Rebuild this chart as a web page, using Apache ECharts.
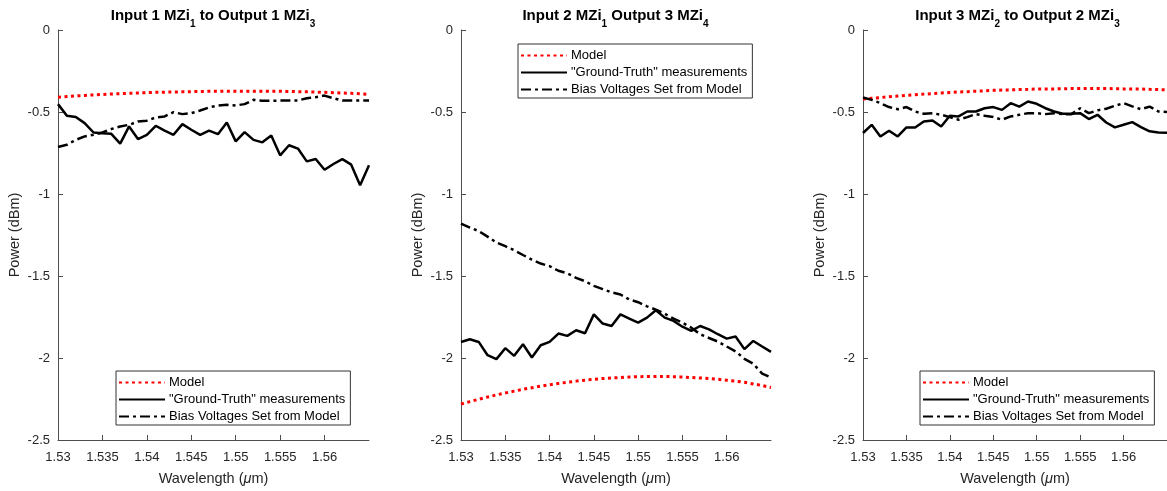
<!DOCTYPE html>
<html>
<head>
<meta charset="utf-8">
<script src="https://cdn.jsdelivr.net/npm/echarts@6/dist/echarts.min.js"></script>
<style>
  html, body { margin: 0; padding: 0; background: #ffffff; }
  #chart { width: 1167px; height: 491px; }
</style>
</head>
<body>
<div id="chart"></div>
<script>
// Wavelength samples (µm)
const wavelength = [
  1.530, 1.531, 1.532, 1.533, 1.534, 1.535, 1.536, 1.537, 1.538, 1.539,
  1.540, 1.541, 1.542, 1.543, 1.544, 1.545, 1.546, 1.547, 1.548, 1.549,
  1.550, 1.551, 1.552, 1.553, 1.554, 1.555, 1.556, 1.557, 1.558, 1.559,
  1.560, 1.561, 1.562, 1.563, 1.564, 1.565
];
const xTicks = [1.53, 1.535, 1.54, 1.545, 1.55, 1.555, 1.56];

const seriesNames = ['Model', '"Ground-Truth" measurements', 'Bias Voltages Set from Model'];

// Input 1 MZi1 -> Output 1 MZi3 (dBm)
const p1Model = [
  -0.410, -0.406, -0.402, -0.399, -0.396, -0.393, -0.390, -0.388, -0.386, -0.384,
  -0.382, -0.380, -0.379, -0.378, -0.377, -0.376, -0.375, -0.374, -0.374, -0.373,
  -0.373, -0.373, -0.373, -0.373, -0.374, -0.374, -0.375, -0.376, -0.377, -0.379,
  -0.380, -0.382, -0.384, -0.386, -0.389, -0.392
];
const p1Truth = [
  -0.452, -0.523, -0.531, -0.568, -0.625, -0.630, -0.633, -0.693, -0.588, -0.665,
  -0.639, -0.584, -0.614, -0.639, -0.574, -0.608, -0.639, -0.614, -0.635, -0.564,
  -0.679, -0.623, -0.670, -0.685, -0.643, -0.764, -0.703, -0.723, -0.801, -0.787,
  -0.852, -0.817, -0.787, -0.821, -0.947, -0.825
];
const p1Bias = [
  -0.713, -0.700, -0.670, -0.649, -0.639, -0.625, -0.604, -0.588, -0.578, -0.558,
  -0.553, -0.533, -0.527, -0.501, -0.513, -0.507, -0.491, -0.472, -0.460, -0.456,
  -0.460, -0.452, -0.426, -0.432, -0.432, -0.430, -0.430, -0.430, -0.416, -0.410,
  -0.400, -0.416, -0.430, -0.430, -0.430, -0.430
];

// Input 2 MZi1 -> Output 3 MZi4 (dBm)
const p2Model = [
  -2.281, -2.266, -2.252, -2.238, -2.225, -2.213, -2.202, -2.191, -2.181, -2.172,
  -2.163, -2.155, -2.148, -2.141, -2.135, -2.130, -2.125, -2.122, -2.119, -2.116,
  -2.114, -2.113, -2.113, -2.113, -2.114, -2.116, -2.119, -2.122, -2.125, -2.130,
  -2.135, -2.141, -2.148, -2.158, -2.168, -2.180
];
const p2Truth = [
  -1.902, -1.886, -1.902, -1.983, -2.007, -1.940, -1.987, -1.916, -1.997, -1.922,
  -1.902, -1.851, -1.865, -1.831, -1.849, -1.734, -1.790, -1.805, -1.734, -1.760,
  -1.784, -1.754, -1.709, -1.754, -1.774, -1.809, -1.835, -1.805, -1.825, -1.855,
  -1.882, -1.869, -1.946, -1.896, -1.930, -1.963
];
const p2Bias = [
  -1.180, -1.205, -1.226, -1.260, -1.296, -1.318, -1.343, -1.372, -1.400, -1.424,
  -1.440, -1.468, -1.484, -1.511, -1.532, -1.560, -1.580, -1.600, -1.613, -1.643,
  -1.660, -1.685, -1.705, -1.730, -1.760, -1.785, -1.815, -1.855, -1.878, -1.900,
  -1.930, -1.960, -2.005, -2.035, -2.095, -2.119
];

// Input 3 MZi2 -> Output 2 MZi3 (dBm)
const p3Model = [
  -0.421, -0.416, -0.412, -0.407, -0.403, -0.399, -0.395, -0.391, -0.388, -0.384,
  -0.381, -0.378, -0.376, -0.373, -0.371, -0.368, -0.366, -0.365, -0.363, -0.362,
  -0.360, -0.359, -0.359, -0.358, -0.357, -0.357, -0.357, -0.357, -0.357, -0.358,
  -0.359, -0.359, -0.360, -0.362, -0.363, -0.365
];
const p3Truth = [
  -0.628, -0.578, -0.649, -0.614, -0.649, -0.594, -0.594, -0.558, -0.552, -0.588,
  -0.523, -0.527, -0.497, -0.497, -0.477, -0.470, -0.487, -0.446, -0.467, -0.436,
  -0.450, -0.477, -0.497, -0.511, -0.511, -0.507, -0.543, -0.517, -0.564, -0.594,
  -0.578, -0.562, -0.592, -0.618, -0.625, -0.627
];
const p3Bias = [
  -0.412, -0.426, -0.446, -0.470, -0.483, -0.470, -0.497, -0.511, -0.507, -0.517,
  -0.531, -0.547, -0.531, -0.513, -0.523, -0.531, -0.547, -0.527, -0.517, -0.507,
  -0.507, -0.513, -0.507, -0.513, -0.513, -0.477, -0.507, -0.490, -0.480, -0.462,
  -0.446, -0.466, -0.483, -0.467, -0.497, -0.500
];

const panelTitles = [
  ['Input 1 MZi', '1', ' to Output 1 MZi', '3'],
  ['Input 2 MZi', '1', ' Output 3 MZi', '4'],
  ['Input 3 MZi', '2', ' to Output 2 MZi', '3']
];
const panelData = [
  [p1Model, p1Truth, p1Bias],
  [p2Model, p2Truth, p2Bias],
  [p3Model, p3Truth, p3Bias]
];

const FONT = '"Liberation Sans", Arial, Helvetica, sans-serif';
const TEXT = '#262626';
const AXIS = '#4d4d4d';

const grids = [
  { left: 58, width: 311 },
  { left: 461, width: 310 },
  { left: 863, width: 310 }
];
const legendPos = [
  { left: 116, top: 371 },
  { left: 518, top: 44 },
  { left: 920, top: 371 }
];

const lineStyles = [
  { color: '#ff0000', width: 3, type: [3, 3.5], cap: 'butt' },
  { color: '#000000', width: 2.5, type: 'solid' },
  { color: '#000000', width: 2.5, type: [10, 4, 3, 4] }
];

function pairs(values) {
  return wavelength.map((w, i) => [w, values[i]]);
}

const option = {
  backgroundColor: '#ffffff',
  animation: false,
  title: panelTitles.map((t, k) => ({
    text: '{b|' + t[0] + '}{s|' + t[1] + '}{b|' + t[2] + '}{s|' + t[3] + '}',
    left: grids[k].left + grids[k].width / 2 - 5.5,
    top: -2,
    textAlign: 'center',
    textStyle: {
      rich: {
        b: { fontFamily: FONT, fontSize: 15, fontWeight: 'bold', color: '#000', lineHeight: 26, verticalAlign: 'middle' },
        s: { fontFamily: FONT, fontSize: 10, fontWeight: 'bold', color: '#000', lineHeight: 10, verticalAlign: 'bottom' }
      }
    }
  })),
  legend: legendPos.map((p) => ({
    orient: 'vertical',
    left: p.left,
    top: p.top,
    data: seriesNames,
    itemWidth: 46,
    itemHeight: 14,
    itemGap: 4,
    padding: [5, 5, 2, 2],
    backgroundColor: '#ffffff',
    borderColor: '#333333',
    borderWidth: 1,
    borderRadius: 0,
    selectedMode: false,
    itemStyle: { opacity: 0 },
    textStyle: { fontFamily: FONT, fontSize: 13, color: '#000', padding: [0, 0, 0, -1] }
  })),
  grid: grids.map(g => ({ left: g.left, width: g.width, top: 30, height: 411, containLabel: false })),
  xAxis: grids.map((g, k) => ({
    gridIndex: k,
    type: 'value',
    min: 1.53,
    max: 1.565,
    name: 'Wavelength ({m|μ}m)',
    nameLocation: 'middle',
    nameGap: 31,
    nameTextStyle: {
      fontFamily: FONT, fontSize: 14.5, color: TEXT,
      rich: { m: { fontFamily: FONT, fontSize: 14.5, color: TEXT, fontStyle: 'italic' } }
    },
    axisLine: { show: true, onZero: false, lineStyle: { color: AXIS, width: 1 } },
    axisTick: { show: true, inside: true, length: 5, customValues: xTicks, lineStyle: { color: AXIS } },
    axisLabel: {
      customValues: xTicks,
      formatter: v => String(+(+v).toFixed(3)),
      fontFamily: FONT, fontSize: 13, color: TEXT, margin: 11
    },
    splitLine: { show: false }
  })),
  yAxis: grids.map((g, k) => ({
    gridIndex: k,
    type: 'value',
    min: -2.5,
    max: 0,
    interval: 0.5,
    name: 'Power (dBm)',
    nameLocation: 'middle',
    nameGap: 36,
    nameTextStyle: { fontFamily: FONT, fontSize: 14.5, color: TEXT },
    axisLine: { show: true, onZero: false, lineStyle: { color: AXIS, width: 1 } },
    axisTick: { show: true, inside: true, length: 5, lineStyle: { color: AXIS } },
    axisLabel: {
      formatter: v => String(+(+v).toFixed(2)),
      fontFamily: FONT, fontSize: 13, color: TEXT, margin: 8
    },
    splitLine: { show: false }
  })),
  series: []
};

panelData.forEach((set, k) => {
  set.forEach((values, j) => {
    option.series.push({
      name: seriesNames[j],
      type: 'line',
      xAxisIndex: k,
      yAxisIndex: k,
      data: pairs(values),
      symbol: 'none',
      showSymbol: false,
      clip: true,
      lineStyle: lineStyles[j],
      itemStyle: { color: lineStyles[j].color },
      emphasis: { disabled: true },
      z: 2 + j
    });
  });
});

const chart = echarts.init(document.getElementById('chart'), null, { renderer: 'canvas' });
chart.setOption(option);
</script>
</body>
</html>
